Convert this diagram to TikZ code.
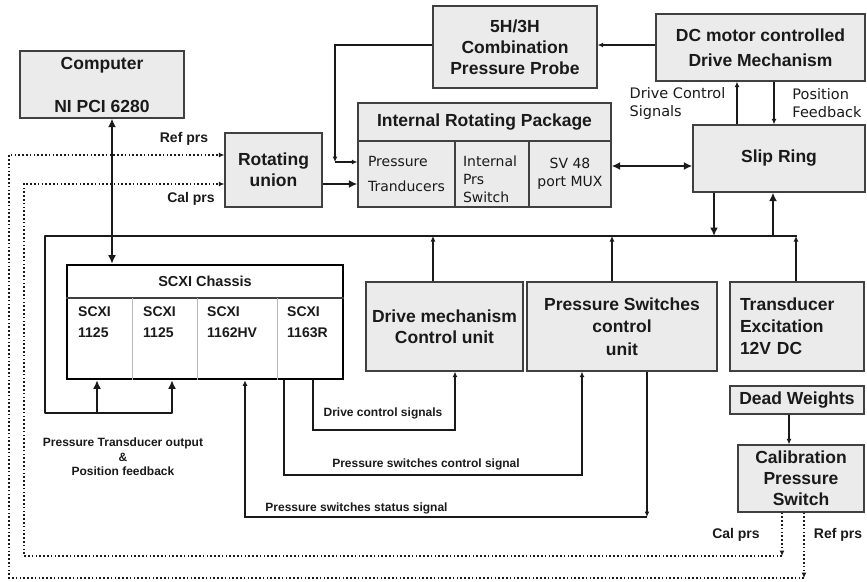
\documentclass[tikz,border=0pt]{standalone}
\usepackage{fontspec}
\setmainfont{Liberation Sans}
\newfontfamily\dvsans{DejaVu Sans}
\usetikzlibrary{arrows.meta}
\definecolor{boxfill}{HTML}{EBEBEB}
\definecolor{edgegray}{HTML}{404040}
\definecolor{ink}{HTML}{1A1A1A}
\begin{document}
\begin{tikzpicture}[x=1pt,y=-1pt,
  box/.style={draw=edgegray, line width=1.3pt, fill=boxfill, inner sep=0pt,
    align=center, text=ink, font=\bfseries\fontsize{17.5}{21}\selectfont},
  cellbox/.style={draw=edgegray, line width=1.3pt, fill=boxfill, inner sep=0pt,
    text=ink, font=\dvsans\fontsize{14}{18}\selectfont},
  lbl/.style={inner sep=0pt, text=ink, align=center,
    font=\bfseries\fontsize{14}{21}\selectfont},
  smalllbl/.style={inner sep=0pt, text=ink, align=center,
    font=\bfseries\fontsize{12}{14.5}\selectfont},
  plainlbl/.style={inner sep=0pt, text=ink, align=left,
    font=\dvsans\fontsize{14.5}{18}\selectfont},
  conn/.style={draw=ink, line width=1.4pt},
  trunk/.style={draw=ink, line width=2.8pt},
  dotline/.style={draw=ink, line width=1.4pt, dash pattern=on 1.6pt off 2.2pt},
  thinhead/.style={-{Latex[length=5.5pt,width=5pt]}},
  thickhead/.style={-{Latex[length=8.5pt,width=8pt]}},
  bothheads/.style={{Latex[length=8.5pt,width=8pt]}-{Latex[length=8.5pt,width=8pt]}},
]
\useasboundingbox (0,0) rectangle (867,581);

% ---------- upper blocks ----------
\node[box, minimum width=164pt, minimum height=67pt] (comp) at (102,84.5)
  {Computer\\[22pt]NI PCI 6280};
\node[box, minimum width=97pt, minimum height=74pt] (ru) at (273.5,170)
  {Rotating\\union};
\node[box, minimum width=164pt, minimum height=82pt] (probe) at (515,47)
  {5H/3H\\Combination\\Pressure Probe};
\node[box, minimum width=209pt, minimum height=67pt] (dcm) at (760.5,47.5)
  {DC motor controlled\\[4pt]Drive Mechanism};

% internal rotating package: title row and three cells
\node[box, minimum width=253pt, minimum height=38pt] (irp) at (484.5,122)
  {Internal Rotating Package};
\node[cellbox, minimum width=97pt, minimum height=66pt, text width=77pt, align=left]
  (pt) at (406.5,174) {Pressure\\[7pt]Tranducers};
\node[cellbox, minimum width=74pt, minimum height=66pt] (ips) at (492,174) {};
\node[cellbox, draw=none, fill=none, text width=58pt, align=left] (ipstext) at (492,179)
  {Internal\\Prs\\Switch};
\node[cellbox, minimum width=82pt, minimum height=66pt, align=center] (mux) at (570,174)
  {SV 48\\port MUX};

\node[box, minimum width=172pt, minimum height=67pt] (slip) at (779,158.5) {Slip Ring};

% ---------- SCXI chassis ----------
\node[draw=black, line width=2.6pt, fill=white, minimum width=276pt,
  minimum height=114pt, inner sep=0pt] (scxi) at (205,322) {};
\node[lbl, font=\bfseries\fontsize{14.5}{17}\selectfont] (scxititle) at (205,281.5)
  {SCXI Chassis};
\draw[draw=edgegray, line width=1.2pt] (scxi.west |- 0,298) -- (scxi.east |- 0,298);
\foreach \x in {132,197,277}
  \draw[gray!55, line width=0.9pt] (\x,298) -- (\x,0 |- scxi.south);
\node[lbl, align=left, anchor=west] (m1) at (78,322.5) {SCXI\\1125};
\node[lbl, align=left, anchor=west] (m2) at (143,322.5) {SCXI\\1125};
\node[lbl, align=left, anchor=west] (m3) at (207,322.5) {SCXI\\1162HV};
\node[lbl, align=left, anchor=west] (m4) at (287,322.5) {SCXI\\1163R};

% ---------- lower blocks ----------
\node[box, minimum width=157pt, minimum height=89pt] (dmcu) at (444.5,326.5)
  {Drive mechanism\\Control unit};
\node[box, minimum width=190pt, minimum height=89pt] (psu) at (622,326.5)
  {Pressure Switches\\[1.5pt]control\\[1.5pt]unit};
\node[box, minimum width=134pt, minimum height=89pt, text width=114pt, align=left]
  (tex) at (797,326.5) {Transducer\\[1pt]Excitation\\[1pt]12V DC};
\node[box, minimum width=134pt, minimum height=28pt] (dw) at (797,400) {Dead Weights};
\node[box, minimum width=126pt, minimum height=67pt] (cps) at (801,478.5)
  {Calibration\\Pressure\\Switch};

% ---------- probe and drive ----------
\draw[conn, thinhead] (dcm.west |- 0,45) -- (probe.east |- 0,45);
\coordinate (pk) at (335,162);
\draw[conn, thinhead] (probe.west |- 0,45) -| (pk);
\draw[conn, thinhead] (pk) -- (pt.west |- pk);
\draw[trunk, thickhead] (ru.east |- 0,184) -- (pt.west |- 0,184);
\draw[trunk, bothheads] (mux.east |- 0,166) -- (slip.west |- 0,166);
\draw[conn, thinhead] (737,0 |- slip.north) -- (737,0 |- dcm.south);
\draw[conn, thinhead] (774,0 |- dcm.south) -- (774,0 |- slip.north);
\node[plainlbl] (dcsig) at (677.5,103) {Drive Control\\Signals};
\node[plainlbl] (posfb) at (827,103) {Position\\Feedback};

% ---------- common bus ----------
\coordinate (busR) at (797,236);
\coordinate (busL) at (45,236);
\draw[trunk, thickhead, line join=round] (busR) -- (busL) |- (172,413) -- (172,0 |- scxi.south);
\draw[trunk, thickhead] (97,413) -- (97,0 |- scxi.south);
\draw[trunk, bothheads] (112,0 |- comp.south) -- (112,0 |- scxi.north);
\draw[trunk, thickhead] (714,0 |- slip.south) -- (714,0 |- busR);
\draw[trunk, thickhead] (773,0 |- busR) -- (773,0 |- slip.south);
\draw[conn, thinhead] (433,0 |- dmcu.north) -- (433,0 |- busR);
\draw[conn, thinhead] (612,0 |- psu.north) -- (612,0 |- busR);
\draw[conn, thinhead] (796,0 |- tex.north) -- (796,0 |- busR);

\node[smalllbl] (ptout) at (123,457)
  {Pressure Transducer output\\\&\\Position feedback};

% ---------- control and status signals ----------
\draw[conn, thinhead] (313,0 |- scxi.south) |- (455,430) -- (455,0 |- dmcu.south);
\node[smalllbl] (dcslbl) at (383,413) {Drive control signals};
\draw[conn, thinhead] (284,0 |- scxi.south) |- (582,475) -- (582,0 |- psu.south);
\node[smalllbl] (psclbl) at (426,464) {Pressure switches control signal};
\coordinate (stc) at (647,517);
\draw[conn, thinhead] (647,0 |- psu.south) -- (stc);
\draw[conn, thinhead] (stc) -| (245,0 |- scxi.south);
\node[smalllbl] (pssl) at (356.5,508) {Pressure switches status signal};

% ---------- calibration pressure lines ----------
\draw[conn, thinhead] (789,0 |- dw.south) -- (789,0 |- cps.north);
\coordinate (calk) at (782,556);
\coordinate (refk) at (804,578);
\draw[dotline, thinhead] (cps.south -| calk) -- (calk);
\draw[dotline, thinhead] (calk) -| (24,184) -- (ru.west |- 0,184);
\draw[dotline, thinhead] (cps.south -| refk) -- (refk);
\draw[dotline, thinhead] (refk) -| (9,155) -- (ru.west |- 0,155);
\node[lbl] (refl) at (184,139) {Ref prs};
\node[lbl] (call) at (191,199) {Cal prs};
\node[lbl] (cal2) at (736,535) {Cal prs};
\node[lbl] (ref2) at (838,535) {Ref prs};
\end{tikzpicture}
\end{document}
